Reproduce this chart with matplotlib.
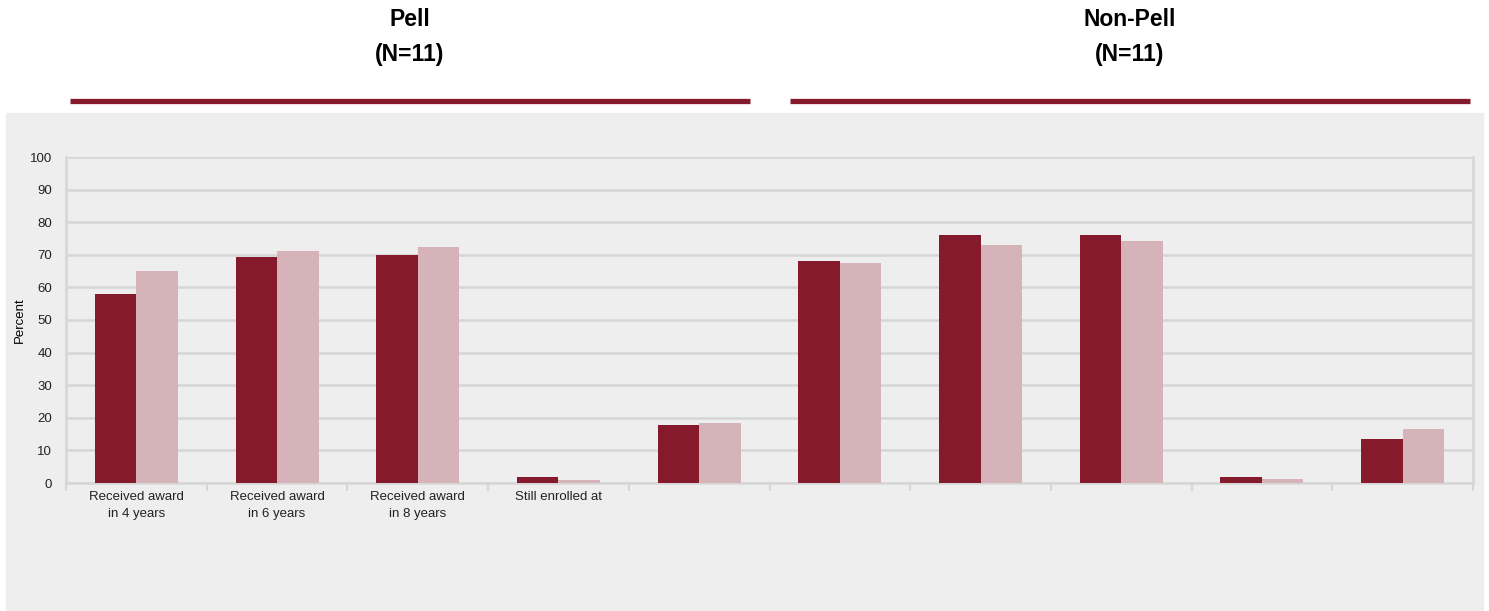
import numpy as np
import matplotlib.pyplot as plt
from matplotlib.patches import Rectangle

plt.rcParams['font.family'] = ['Liberation Sans', 'DejaVu Sans']

dark = np.array([132, 26, 44]) / 255
light = np.array([214, 179, 184]) / 255
panel = '#eeeeee'
grid = '#d6d6d6'

groups = ['Pell', 'Non-Pell']
group_n = ['(N=11)', '(N=11)']
labels = ['Received award\nin 4 years', 'Received award\nin 6 years',
          'Received award\nin 8 years', 'Still enrolled at', '',
          '', '', '', '', '']
# dark / light bars, Pell then Non-Pell
series_dark = [58, 69.3, 70, 1.8, 17.8, 68.1, 76.1, 76.1, 1.8, 13.5]
series_light = [65, 71.2, 72.4, 1.0, 18.4, 67.5, 73, 74.2, 1.1, 16.6]

W, H = 1489, 611
fig = plt.figure(figsize=(W / 100, H / 100), dpi=100)

# grey panel behind the chart
fig.patches.append(Rectangle((6 / W, 1 / H), 1477 / W, 497 / H,
                             transform=fig.transFigure, color=panel, zorder=-5))

# group headers with underline
for i, g in enumerate(groups):
    x0, x1 = [(70, 750), (790, 1470)][i]
    xc = (x0 + x1) / 2 / W
    fig.text(xc, 1 - 20 / H, g, ha='center', va='center',
             fontsize=16.5, fontweight='bold')
    fig.text(xc, 1 - 55 / H, group_n[i], ha='center', va='center',
             fontsize=16.5, fontweight='bold')
    fig.add_artist(plt.Line2D([x0 / W, x1 / W], [1 - 101 / H] * 2,
                              color=dark, lw=3.8, solid_capstyle='butt'))

ax = fig.add_axes([66 / W, 1 - 483 / H, 1407 / W, 326 / H])
ax.set_facecolor(panel)
x = np.arange(len(labels))
bw = 0.295
ax.bar(x - bw / 2, series_dark, bw, color=dark, zorder=3)
ax.bar(x + bw / 2, series_light, bw, color=light, zorder=3)

ax.set_xlim(-0.5, len(labels) - 0.5)
ax.set_ylim(0, 100)
ax.set_yticks(range(0, 101, 10))
ax.yaxis.grid(True, color=grid, lw=1.8, zorder=0)
ax.set_axisbelow(True)

ax.set_xticks(x)
ax.set_xticklabels(labels, fontsize=9.5, color='#222222', linespacing=1.5)
ax.set_xticks(np.arange(-0.5, len(labels)), minor=True)
ax.tick_params(axis='x', which='major', length=0, pad=6)
ax.tick_params(axis='x', which='minor', length=6, width=1.5, color=grid)
ax.tick_params(axis='y', length=0, labelsize=9.5, labelcolor='#222222', pad=10)
ax.set_ylabel('Percent', fontsize=9.5, labelpad=3)

for s in ['left', 'right', 'bottom']:
    ax.spines[s].set_color(grid)
    ax.spines[s].set_linewidth(1.8)
ax.spines['top'].set_visible(False)

fig.savefig('out.png', dpi=100)
